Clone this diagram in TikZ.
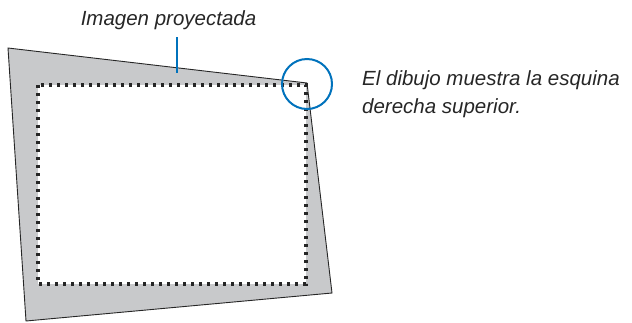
\documentclass[tikz,border=0pt]{standalone}
\usepackage{fontspec}
\setmainfont{Liberation Sans}
\usepackage{tikz}
\usetikzlibrary{positioning,calc}
\definecolor{screengrey}{RGB}{200,201,203}
\definecolor{calloutblue}{RGB}{0,114,188}
\tikzset{
  screen/.style={draw=black!85,fill=screengrey,line width=.9pt,line join=miter},
  dotframe/.style={draw=black!85,fill=white,line width=3.2pt,dash pattern=on 3.2pt off 4.8pt},
  callout/.style={draw=calloutblue,line width=2pt},
  lbl/.style={font=\fontsize{20.5}{28}\selectfont\itshape,text=black!85,inner sep=0pt,align=left},
}
\begin{document}
\begin{tikzpicture}[x=1pt,y=-1pt]
  \useasboundingbox (0,0) rectangle (632,322);
  % projected screen
  \coordinate (tl) at (8,48);
  \coordinate (tr) at (307,83);
  \coordinate (br) at (332,293);
  \coordinate (bl) at (26,321);
  \draw[screen] (tl) -- (tr) -- (br) -- (bl) -- cycle;
  % dotted frame
  \coordinate (ftl) at (38,85);
  \coordinate (fbr) at (306,284);
  \draw[dotframe] (ftl) rectangle (fbr);
  % labels
  \node[lbl,anchor=base] (imglbl) at (168.5,25) {Imagen proyectada};
  \node[lbl,anchor=base west] (cornerlbl) at (362,113)
    {El dibujo muestra la esquina\\derecha superior.};
  % callouts
  \coordinate (lineup) at (177,37);
  \coordinate (edge) at (177,73);
  \draw[callout] (lineup) -- (edge);
  \node[callout,circle,minimum size=50pt,inner sep=0pt] (corner) at (307,84) {};
\end{tikzpicture}
\end{document}
